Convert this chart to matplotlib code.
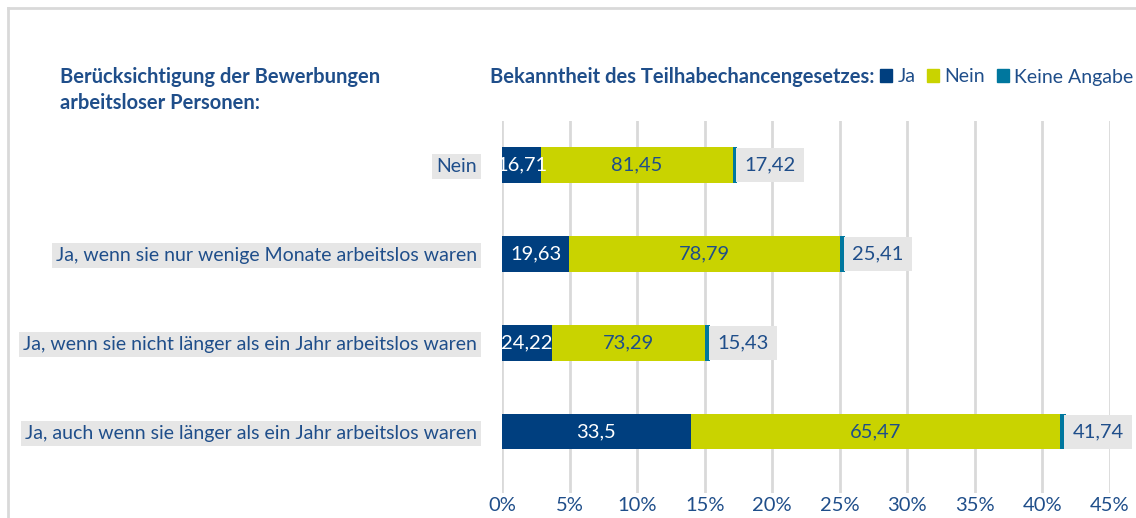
import matplotlib.pyplot as plt
from matplotlib.lines import Line2D
from matplotlib.patches import Patch

# Anteile nach Antwortkategorie
categories = [
    "Nein",
    "Ja, wenn sie nur wenige Monate arbeitslos waren",
    "Ja, wenn sie nicht länger als ein Jahr arbeitslos waren",
    "Ja, auch wenn sie länger als ein Jahr arbeitslos waren",
]
totals = [17.42, 25.41, 15.43, 41.74]      # Gesamtanteil in %
ja = [16.71, 19.63, 24.22, 33.5]           # Anteil innerhalb der Gruppe in %
nein = [81.45, 78.79, 73.29, 65.47]
keine = [1.84, 1.58, 2.49, 1.03]
ticks = [0, 5, 10, 15, 20, 25, 30, 35, 40, 45]

c_ja = "#003f7f"
c_nein = "#c9d300"
c_keine = "#00779e"
c_text = "#1f4e8a"
c_grey = "#e6e6e6"

plt.rcParams["font.family"] = ["Lato", "DejaVu Sans"]
fs = 14.5

fig = plt.figure(figsize=(11.36, 5.18), dpi=100)
W, H = 1136, 518
ax = fig.add_axes([502 / W, 1 - 493 / H, 608 / W, (493 - 121) / H])

y = list(range(len(categories)))
w_ja = [t * s / 100 for t, s in zip(totals, ja)]
w_nein = [t * s / 100 for t, s in zip(totals, nein)]
w_keine = [t * s / 100 for t, s in zip(totals, keine)]
left2 = w_ja
left3 = [a + b for a, b in zip(w_ja, w_nein)]

bh = 0.4
ax.barh(y, w_ja, height=bh, color=c_ja, zorder=3)
ax.barh(y, w_nein, left=left2, height=bh, color=c_nein, zorder=3)
ax.barh(y, w_keine, left=left3, height=bh, color=c_keine, zorder=3)

for i in y:
    ax.text(w_ja[i] / 2, i, f"{ja[i]:g}".replace(".", ","), color="white",
            ha="center", va="center", fontsize=fs, zorder=4)
    ax.text(left2[i] + w_nein[i] / 2, i, f"{nein[i]:g}".replace(".", ","),
            color=c_text, ha="center", va="center", fontsize=fs, zorder=4)
    ax.text(totals[i] + 0.5, i, f"{totals[i]:.2f}".replace(".", ","),
            color=c_text, ha="left", va="center", fontsize=fs, zorder=4,
            clip_on=False,
            bbox=dict(boxstyle="square,pad=0.42", fc=c_grey, ec="none"))

ax.set_xlim(0, 45)
ax.set_ylim(3.69, -0.494)
ax.set_xticks(ticks)
ax.set_xticklabels([f"{t}%" for t in ticks], color=c_text, fontsize=fs)
ax.set_yticks(y)
ax.set_yticklabels(categories, color=c_text, fontsize=14)
for lab in ax.get_yticklabels():
    lab.set_bbox(dict(boxstyle="square,pad=0.2", fc=c_grey, ec="none"))
ax.tick_params(length=0, pad=3)
ax.tick_params(axis="y", pad=18)
ax.grid(axis="x", color="#d9d9d9", linewidth=2, zorder=0)
for s in ax.spines.values():
    s.set_visible(False)

# Rahmen
fig.add_artist(Line2D([8 / W, 8 / W], [0, 1 - 8 / H], color="#d9d9d9", lw=2))
fig.add_artist(Line2D([8 / W, 1], [1 - 8 / H, 1 - 8 / H], color="#d9d9d9", lw=2))

fig.text(60 / W, 1 - 90 / H, "Berücksichtigung der Bewerbungen\narbeitsloser Personen:",
         color=c_text, fontsize=14.5, fontweight="bold", ha="left", va="center",
         linespacing=1.4)
fig.text(490 / W, 1 - 77 / H, "Bekanntheit des Teilhabechancengesetzes:",
         color=c_text, fontsize=14.5, fontweight="bold", ha="left", va="center")
handles = [Patch(color=c_ja, label="Ja"), Patch(color=c_nein, label="Nein"),
           Patch(color=c_keine, label="Keine Angabe")]
leg = fig.legend(handles=handles, loc="center left", ncol=3, frameon=False,
                 bbox_to_anchor=(880 / W, 1 - 77 / H), fontsize=14,
                 handlelength=0.6, handleheight=0.6, handletextpad=0.3,
                 columnspacing=0.6, borderaxespad=0, borderpad=0)
for t in leg.get_texts():
    t.set_color(c_text)

fig.savefig("out.png", dpi=100)
